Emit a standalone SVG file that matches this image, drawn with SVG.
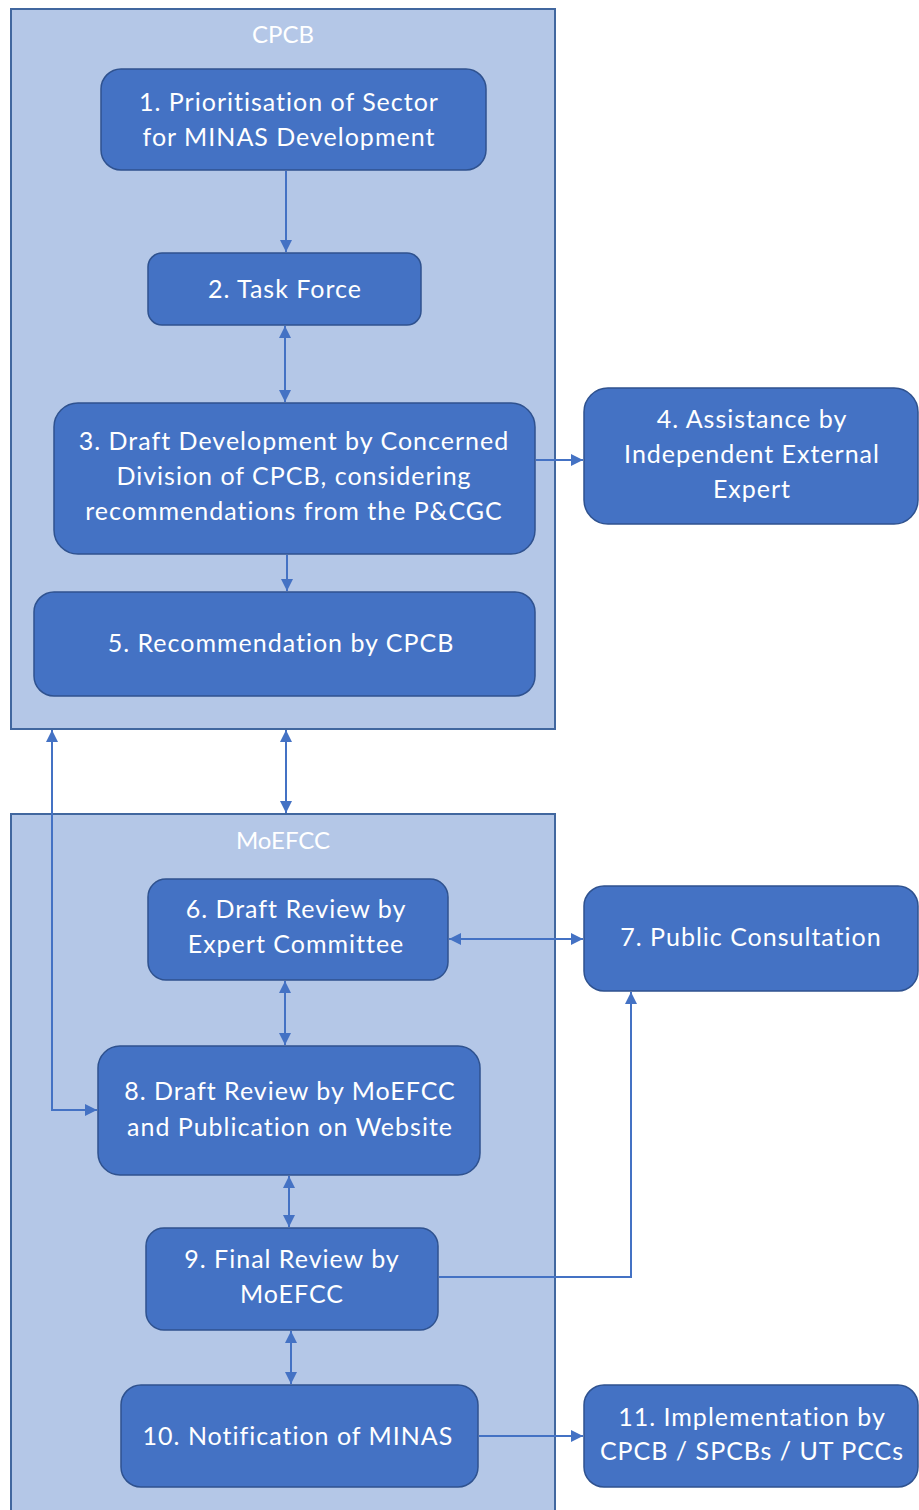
<svg xmlns="http://www.w3.org/2000/svg" width="919" height="1510" viewBox="0 0 919 1510">
<style>
.cont{fill:#b4c7e7;stroke:#41679f;stroke-width:2}
.node{fill:#4472c4;stroke:#2f528f;stroke-width:1.5}
.t{font-family:Lato,"Open Sans","Liberation Sans",sans-serif;font-size:25px;letter-spacing:1px;fill:#ffffff;text-anchor:middle}
.ct{font-family:Lato,"Open Sans","Liberation Sans",sans-serif;font-size:24px;fill:#ffffff;text-anchor:middle}
.c{fill:none;stroke:#4472c4;stroke-width:2}
</style>
<defs>
<marker id="ah" viewBox="0 0 12 12" refX="12" refY="6" markerWidth="12" markerHeight="12" markerUnits="userSpaceOnUse" orient="auto-start-reverse">
<path d="M0,0 L12,6 L0,12 z" fill="#4472c4"/>
</marker>
</defs>
<rect width="919" height="1510" fill="#ffffff"/>
<g id="cpcb">
<rect class="cont" x="11" y="9" width="544" height="720"/>
<text class="ct" x="283" y="43">CPCB</text>
</g>
<g id="moefcc">
<rect class="cont" x="11" y="814" width="544" height="706"/>
<text class="ct" x="283" y="849">MoEFCC</text>
</g>
<g id="connectors">
<line class="c" x1="286" y1="171" x2="286" y2="252" marker-end="url(#ah)"/>
<line class="c" x1="285" y1="326" x2="285" y2="402" marker-start="url(#ah)" marker-end="url(#ah)"/>
<line class="c" x1="536" y1="460" x2="583" y2="460" marker-end="url(#ah)"/>
<line class="c" x1="287" y1="555" x2="287" y2="591" marker-end="url(#ah)"/>
<line class="c" x1="286" y1="730" x2="286" y2="813" marker-start="url(#ah)" marker-end="url(#ah)"/>
<polyline class="c" points="52,730 52,1110 97,1110" marker-start="url(#ah)" marker-end="url(#ah)"/>
<line class="c" x1="449" y1="939" x2="583" y2="939" marker-start="url(#ah)" marker-end="url(#ah)"/>
<line class="c" x1="285" y1="981" x2="285" y2="1045" marker-start="url(#ah)" marker-end="url(#ah)"/>
<line class="c" x1="289" y1="1176" x2="289" y2="1227" marker-start="url(#ah)" marker-end="url(#ah)"/>
<polyline class="c" points="439,1277 631,1277 631,992" marker-end="url(#ah)"/>
<line class="c" x1="291" y1="1331" x2="291" y2="1384" marker-start="url(#ah)" marker-end="url(#ah)"/>
<line class="c" x1="479" y1="1436" x2="583" y2="1436" marker-end="url(#ah)"/>
</g>
<g id="n1">
<rect class="node" x="101" y="69" width="385" height="101" rx="20"/>
<text class="t" x="289" y="111">1. Prioritisation of Sector</text>
<text class="t" x="289" y="146">for MINAS Development</text>
</g>
<g id="n2">
<rect class="node" x="148" y="253" width="273" height="72" rx="14"/>
<text class="t" x="285" y="298">2. Task Force</text>
</g>
<g id="n3">
<rect class="node" x="54" y="403" width="481" height="151" rx="24"/>
<text class="t" x="294" y="450">3. Draft Development by Concerned</text>
<text class="t" x="294" y="485">Division of CPCB,  considering</text>
<text class="t" x="294" y="520">recommendations from the  P&amp;CGC</text>
</g>
<g id="n4">
<rect class="node" x="584" y="388" width="334" height="136" rx="24"/>
<text class="t" x="752" y="428">4. Assistance by</text>
<text class="t" x="752" y="463">Independent External</text>
<text class="t" x="752" y="498">Expert</text>
</g>
<g id="n5">
<rect class="node" x="34" y="592" width="501" height="104" rx="20"/>
<text class="t" x="281" y="652">5.  Recommendation by CPCB</text>
</g>
<g id="n6">
<rect class="node" x="148" y="879" width="300" height="101" rx="18"/>
<text class="t" x="296" y="918">6. Draft Review by</text>
<text class="t" x="296" y="953">Expert Committee</text>
</g>
<g id="n7">
<rect class="node" x="584" y="886" width="334" height="105" rx="20"/>
<text class="t" x="751" y="946">7. Public Consultation</text>
</g>
<g id="n8">
<rect class="node" x="98" y="1046" width="382" height="129" rx="22"/>
<text class="t" x="290" y="1100">8. Draft Review by MoEFCC</text>
<text class="t" x="290" y="1136">and Publication on Website</text>
</g>
<g id="n9">
<rect class="node" x="146" y="1228" width="292" height="102" rx="18"/>
<text class="t" x="292" y="1268">9. Final Review by</text>
<text class="t" x="292" y="1303">MoEFCC</text>
</g>
<g id="n10">
<rect class="node" x="121" y="1385" width="357" height="102" rx="20"/>
<text class="t" x="298" y="1445">10. Notification of MINAS</text>
</g>
<g id="n11">
<rect class="node" x="584" y="1385" width="334" height="102" rx="20"/>
<text class="t" x="752" y="1426">11. Implementation by</text>
<text class="t" x="752" y="1460">CPCB / SPCBs / UT PCCs</text>
</g>
</svg>
